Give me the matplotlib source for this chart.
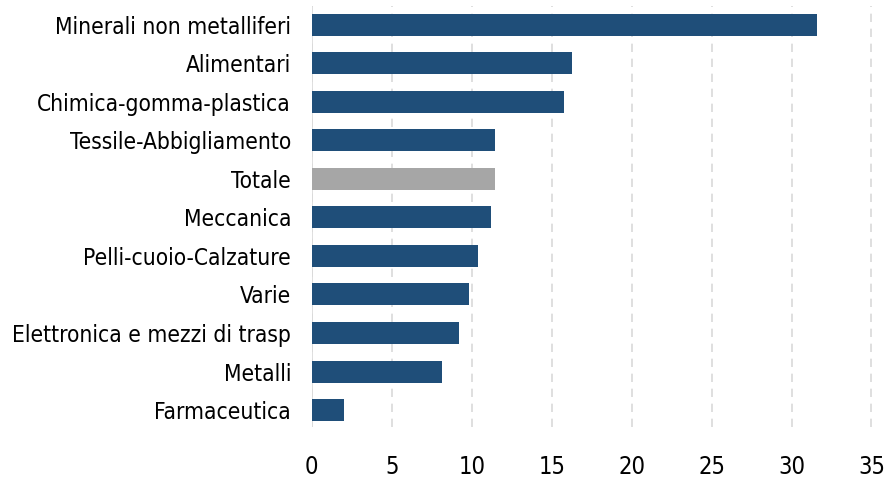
import matplotlib
matplotlib.use('Agg')
import matplotlib.pyplot as plt

categories = ['Minerali non metalliferi', 'Alimentari', 'Chimica-gomma-plastica',
              'Tessile-Abbigliamento', 'Totale', 'Meccanica', 'Pelli-cuoio-Calzature',
              'Varie', 'Elettronica e mezzi di trasp', 'Metalli', 'Farmaceutica']
values = [31.6, 16.3, 15.8, 11.45, 11.45, 11.2, 10.4, 9.85, 9.2, 8.15, 2.0]
ticks = [0, 5, 10, 15, 20, 25, 30, 35]

plt.rcParams['font.family'] = ['DejaVu Sans']
plt.rcParams['font.stretch'] = 'condensed'

fig = plt.figure(figsize=(8.86, 4.82), dpi=100)
ax = fig.add_axes([0.352, 0.114, 0.637, 0.874])

colors = ['#A6A6A6' if c == 'Totale' else '#1F4E79' for c in categories]
pos = list(range(len(categories)))
ax.barh(pos, values, height=0.57, color=colors, zorder=3)

ax.set_ylim(len(categories) - 0.56, -0.49)
ax.set_xlim(0, 35.3)
ax.set_xticks(ticks)
ax.set_xticklabels([str(t) for t in ticks], fontsize=17)
ax.set_yticks(pos)
ax.set_yticklabels(categories, fontsize=16.3)
ax.tick_params(axis='x', length=0, pad=20)
ax.tick_params(axis='y', length=0, pad=15)

for s in ax.spines.values():
    s.set_visible(False)
ax.axvline(0, color='#D9D9D9', lw=1.2, zorder=2)
ax.grid(axis='x', color='#D9D9D9', linestyle=(0, (5, 4)), lw=1.2, zorder=0)
ax.set_axisbelow(True)

plt.savefig('out.png', dpi=100)
